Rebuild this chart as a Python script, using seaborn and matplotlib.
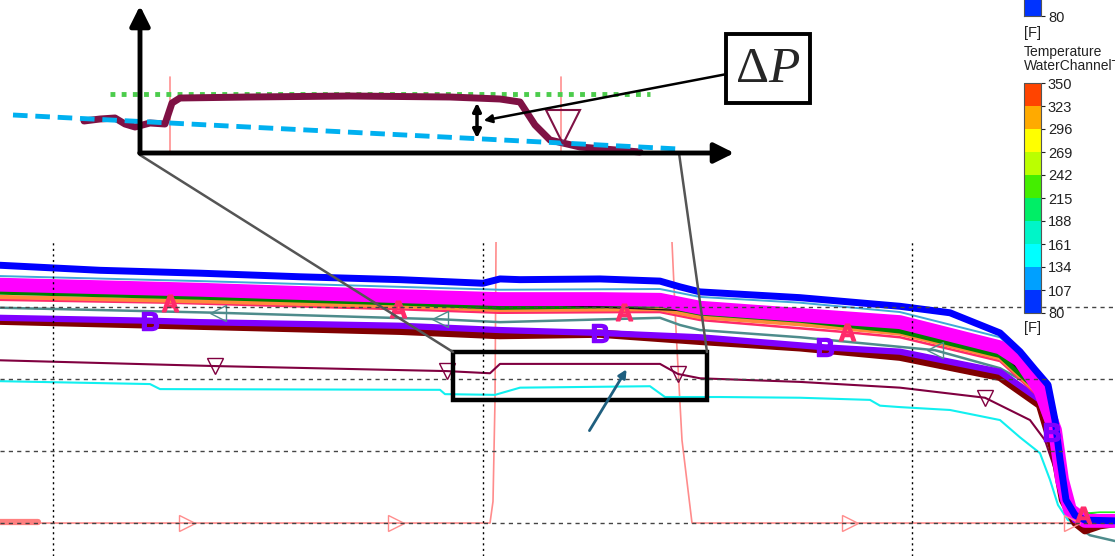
import numpy as np
import pandas as pd
import seaborn as sns
import matplotlib
matplotlib.use("Agg")
import matplotlib.pyplot as plt
from matplotlib.colors import ListedColormap, BoundaryNorm
from matplotlib.cm import ScalarMappable
from matplotlib.patches import Rectangle

# ---- channel pressures (time [s], pressure [psi]) ----
blue_t = [0, 100, 200, 300, 400, 483, 500, 520, 600, 660, 680, 700, 800, 900, 950, 1000, 1020, 1035, 1048, 1055, 1060, 1066, 1075, 1085, 1115]
blue_p = [35.8, 35.1, 34.7, 34.2, 33.8, 33.3, 33.9, 33.8, 33.9, 33.6, 32.8, 32.1, 31.3, 30.1, 29.2, 26.4, 23.8, 21.3, 19.2, 14.3, 8.8, 3.2, 1.1, 0.4, 0.3]

skyblue_t = [0, 200, 400, 500, 660, 700, 800, 900, 1000, 1030, 1050, 1060, 1070, 1115]
skyblue_p = [34.3, 33.6, 32.8, 32.4, 32.5, 31.4, 30.6, 29.3, 25.8, 21.9, 14.3, 6.0, 1.1, 0.4]

magenta_t = [0, 200, 400, 500, 600, 660, 700, 800, 900, 1000, 1020, 1040, 1055, 1062, 1070, 1085, 1115]
magenta_p = [33.1, 32.4, 31.5, 31.1, 31.1, 31.0, 29.9, 28.9, 27.9, 24.4, 22.6, 18.5, 12.9, 6.0, 1.8, 0.3, 0.3]

lime_t = [0, 500, 700, 900, 1000, 1040, 1058, 1066, 1080, 1100, 1115]
lime_p = [32.6, 31.0, 29.9, 28.2, 25.1, 19.2, 10.1, 3.2, 1.3, 1.5, 1.5]

black_t = [0, 500, 700, 900, 1000, 1040, 1056, 1064, 1075, 1115]
black_p = [32.5, 30.6, 29.4, 27.5, 24.0, 18.2, 10.8, 3.9, 0.7, 0.4]

green_t = [0, 200, 400, 500, 660, 700, 800, 900, 1000, 1040, 1055, 1063, 1072, 1115]
green_p = [32.1, 31.4, 30.6, 30.0, 30.3, 29.2, 28.2, 26.7, 23.3, 18.2, 11.5, 4.6, 1.5, 0.4]

orange_t = [0, 200, 400, 500, 660, 700, 800, 900, 1000, 1040, 1056, 1064, 1075, 1115]
orange_p = [31.4, 30.8, 30.1, 29.6, 29.7, 28.6, 27.6, 26.3, 22.9, 17.8, 10.8, 3.9, 1.0, 0.4]

red_t = [0, 170, 398, 500, 624, 660, 700, 847, 900, 1000, 1040, 1056, 1064, 1083, 1115]
red_p = [31.0, 30.6, 29.7, 29.2, 29.3, 29.3, 28.2, 26.5, 25.8, 22.5, 17.4, 10.4, 3.6, 1.1, 0.4]

teal_t = [0, 218, 440, 500, 660, 680, 700, 800, 935, 1000, 1030, 1045, 1055, 1063, 1075, 1090, 1115]
teal_p = [29.9, 29.2, 28.3, 27.9, 28.5, 27.5, 26.8, 25.8, 24.0, 21.5, 19.2, 15.7, 10.1, 3.2, -0.3, -1.7, -2.5]

purple_t = [0, 150, 200, 400, 500, 600, 700, 825, 900, 1000, 1040, 1052, 1063, 1075, 1115]
purple_p = [28.5, 28.1, 27.9, 27.4, 26.8, 26.4, 25.8, 24.4, 23.8, 21.0, 17.1, 12.6, 3.2, 0.4, 0.1]

darkred_t = [0, 200, 400, 500, 600, 700, 800, 900, 1000, 1040, 1055, 1063, 1075, 1085, 1100, 1115]
darkred_p = [28.1, 27.4, 26.7, 26.1, 26.3, 25.3, 24.4, 23.1, 20.3, 16.4, 9.4, 3.2, 0.1, -1.0, -0.3, 0.0]

maroon_t = [0, 215, 447, 490, 500, 660, 678, 700, 800, 900, 985, 1030, 1045, 1055, 1062, 1075, 1090, 1115]
maroon_p = [22.6, 21.8, 21.1, 20.8, 22.1, 22.1, 20.7, 20.1, 19.6, 18.8, 17.4, 14.3, 11.5, 7.4, 3.2, -0.3, 0.7, 0.4]

cyan_t = [0, 150, 160, 440, 445, 495, 520, 650, 665, 720, 800, 870, 880, 900, 950, 1000, 1020, 1040, 1050, 1058, 1068, 1080, 1115]
cyan_p = [19.7, 19.3, 18.6, 18.5, 17.9, 17.8, 18.8, 19.0, 17.5, 17.5, 17.4, 17.1, 16.3, 16.1, 15.7, 14.3, 11.9, 9.7, 6.0, 2.5, 0.4, 0.0, 0.0]

pink_t = [0, 38, 187, 396, 490, 493, 495, 497, 670, 672, 676, 682, 692, 850, 1072, 1080, 1085, 1115]
pink_p = [0.1, 0.0, 0.0, 0.0, 0.0, 3.0, 17.0, 60.0, 60.0, 39.0, 26.8, 11.5, 0.0, 0.0, 0.0, 0.6, 0.0, 0.0]

pinkstart_t = [0, 38]
pinkstart_p = [0.1, 0.1]

# zoomed sketch of the maroon channel (sketch coordinates, pixels)
inset_x = [84, 100, 115, 125, 135, 150, 165, 172, 180, 250, 350, 450, 500, 520, 535, 550, 580, 640]
inset_y = [121, 119, 118, 124, 127, 123, 124, 103, 98, 97, 96, 97, 99, 102, 125, 140, 147, 152]

# colour scale
temp_bounds = [80, 107, 134, 161, 188, 215, 242, 269, 296, 323, 350]
temp_colors = ['#0033ff', '#00a0ff', '#00ffff', '#00f5c8', '#00ee66',
               '#44ee00', '#bbff00', '#ffff00', '#ffaa00', '#ff4400']

# name: (t, p, colour, width)  drawing order = bottom to top
traces = {
    'pink': (pink_t, pink_p, '#ff8c8c', 1.2),
    'pinkstart': (pinkstart_t, pinkstart_p, '#ff8080', 4.5),
    'cyan': (cyan_t, cyan_p, '#11f0f0', 1.5),
    'maroon': (maroon_t, maroon_p, '#800040', 1.5),
    'teal': (teal_t, teal_p, '#4e8c8c', 1.8),
    'darkred': (darkred_t, darkred_p, '#800000', 6.0),
    'purple': (purple_t, purple_p, '#8000ff', 4.5),
    'red': (red_t, red_p, '#ff2a6a', 1.8),
    'orange': (orange_t, orange_p, '#ff8a3a', 3.0),
    'green': (green_t, green_p, '#008000', 4.0),
    'black': (black_t, black_p, '#111111', 1.0),
    'lime': (lime_t, lime_p, '#22ee22', 1.2),
    'skyblue': (skyblue_t, skyblue_p, '#3fa9d8', 1.4),
    'magenta': (magenta_t, magenta_p, '#ff00ff', 10.0),
    'blue': (blue_t, blue_p, '#0000ff', 5.0),
}

# markers the logger puts on some of the traces: (trace, marker, size, filled)
marks = [
    ('pink', [2, 3, 13, 14], '>', 12, False),
    ('maroon', [1, 2, 6, 10], 'v', 12, False),
    ('teal', [1, 2, 8], '<', 12, False),
    ('purple', [1, 5, 7, 11], r'$\mathbf{B}$', 13, True),
    ('red', [1, 2, 4, 7, 13], r'$\mathbf{A}$', 12, True),
]

rows = []
for name, (t, p, c, w) in traces.items():
    rows.append(pd.DataFrame({'t': t, 'p': p, 'series': name}))
df = pd.concat(rows, ignore_index=True)

sns.set_style("white")
plt.rcParams['font.family'] = ['Liberation Sans', 'DejaVu Sans']
plt.rcParams['mathtext.fontset'] = 'custom'
plt.rcParams['mathtext.rm'] = 'Liberation Serif'
plt.rcParams['mathtext.it'] = 'Liberation Serif:italic'
plt.rcParams['mathtext.bf'] = 'Liberation Sans:bold'

W, H = 1115, 556
fig = plt.figure(figsize=(W / 100, H / 100), dpi=100)

ax = fig.add_axes([0, 0, 1, (H - 242) / H])
order = list(traces.keys())
sns.lineplot(data=df, x='t', y='p', hue='series', hue_order=order,
             palette={k: v[2] for k, v in traces.items()},
             size='series', size_order=order,
             sizes={k: v[3] for k, v in traces.items()},
             estimator=None, sort=False, legend=False, ax=ax)

for name, idx, m, ms, filled in marks:
    t, p, c, w = traces[name]
    ax.plot(np.array(t)[idx], np.array(p)[idx], ls='none', marker=m, ms=ms,
            mfc=c if filled else 'none', mec=c, mew=1.0)

ax.set_xlim(0, 1115)
ax.set_ylim(-4.58, 39.03)
ax.set_xticks([53, 483, 912])
ax.set_yticks([0, 10, 20, 30])
ax.tick_params(length=0, labelbottom=False, labelleft=False)
ax.set_xlabel('')
ax.set_ylabel('')
ax.set_axisbelow(False)
ax.xaxis.grid(True, color='k', ls=(0, (1.5, 2.5)), lw=1)
ax.yaxis.grid(True, color='#444444', ls=(0, (3, 3)), lw=1)
sns.despine(ax=ax, left=True, bottom=True)

# sketch overlay, pixel coordinates
ov = fig.add_axes([0, 0, 1, 1])
ov.set_xlim(0, W)
ov.set_ylim(H, 0)
ov.axis('off')
ov.patch.set_alpha(0)

ov.plot([140, 453], [155, 352], color='#555555', lw=1.8)
ov.plot([679, 707], [153, 352], color='#555555', lw=1.8)
ov.add_patch(Rectangle((453, 352), 254, 48, fill=False, lw=3.2, ec='k'))
ov.annotate('', xy=(628, 367), xytext=(588, 433),
            arrowprops=dict(arrowstyle='-|>', color='#1f5f7f', lw=2, mutation_scale=12))

ov.plot([170, 170], [77, 153], color='#ff9090', lw=1.2)
ov.plot([561, 561], [77, 153], color='#ff9090', lw=1.2)
ov.plot([110, 650], [94, 94], color='#4ccc4c', lw=3.5, ls=(0, (1, 1.3)))
ov.plot(inset_x, inset_y, color='#7f1144', lw=5)
ov.plot([13, 679], [115, 149], color='#00b0f0', lw=3.5, ls=(0, (3, 1.6)))
ov.plot([563], [127], marker='v', ms=25, mfc='none', mec='#7f1144', mew=1.5)

ov.annotate('', xy=(140, 3), xytext=(140, 156),
            arrowprops=dict(arrowstyle='-|>', lw=3.5, color='k', mutation_scale=30))
ov.annotate('', xy=(737, 153), xytext=(137, 153),
            arrowprops=dict(arrowstyle='-|>', lw=3.5, color='k', mutation_scale=30))
ov.annotate('', xy=(477, 100), xytext=(477, 141),
            arrowprops=dict(arrowstyle='<|-|>', lw=2.5, color='k', mutation_scale=12))
ov.annotate('', xy=(481, 121), xytext=(727, 74),
            arrowprops=dict(arrowstyle='-|>', lw=1.8, color='k', mutation_scale=12))
ov.add_patch(Rectangle((726, 34), 84, 69, fc='white', lw=2.8, ec='k'))
ov.text(768, 69, r'$\Delta P$', fontsize=37, ha='center', va='center')

# colour bars
cmap = ListedColormap(temp_colors)
norm = BoundaryNorm(temp_bounds, cmap.N)


def add_bar(top_px, ticks):
    cax = fig.add_axes([1024 / W, 1 - (top_px + 230) / H, 17 / W, 230 / H])
    cb = fig.colorbar(ScalarMappable(norm=norm, cmap=cmap), cax=cax, ticks=ticks)
    cb.outline.set_edgecolor('#555555')
    cb.outline.set_linewidth(0.8)
    cax.tick_params(labelsize=10.5, length=3, width=0.8, pad=2, colors='#222222')
    return cb


# upper bar mostly lies above the picture, only its bottom shows
add_bar(16 - 230, temp_bounds[:1])
add_bar(83, temp_bounds)
fig.text(1024 / W, 1 - 33 / H, '[F]', fontsize=10.5, va='center', color='#222222')
fig.text(1024 / W, 1 - 328 / H, '[F]', fontsize=10.5, va='center', color='#222222')
fig.text(1024 / W, 1 - 52 / H, 'Temperature', fontsize=10, va='center', color='#222222')
fig.text(1024 / W, 1 - 66 / H, 'WaterChannelTemperature', fontsize=10, va='center', color='#222222')

fig.savefig('out.png', dpi=100)
